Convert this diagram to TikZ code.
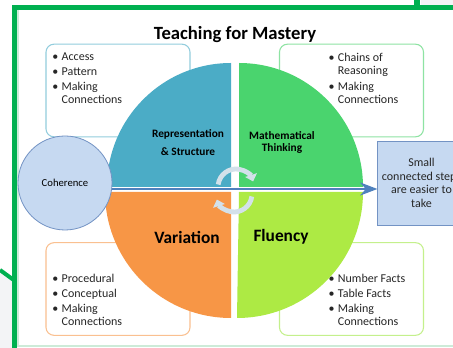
\documentclass[tikz,border=0pt]{standalone}
\usepackage{fontspec}
\setmainfont{Carlito}
\usetikzlibrary{arrows.meta,positioning}

\definecolor{frame}{HTML}{00B050}
\definecolor{framelt}{HTML}{CDEBD8}
\definecolor{greyside}{HTML}{F3F4F6}
\definecolor{repc}{HTML}{4BACC6}
\definecolor{mathc}{HTML}{4AD46E}
\definecolor{varc}{HTML}{F79646}
\definecolor{fluc}{HTML}{ADEA44}
\definecolor{repl}{HTML}{93CDDD}
\definecolor{mathl}{HTML}{8EE3A3}
\definecolor{varl}{HTML}{FAC090}
\definecolor{flul}{HTML}{C4F08C}
\definecolor{pale}{HTML}{C6D9F1}
\definecolor{paleb}{HTML}{7393C4}
\definecolor{link}{HTML}{4F81BD}
\definecolor{cyc}{HTML}{D3E1EA}
\definecolor{txt}{HTML}{262626}

\newcommand\bul{\textbullet\hspace{2.5pt}}
\newcommand\cnt{\hphantom{\textbullet\hspace{2.5pt}}}

\begin{document}
\begin{tikzpicture}[x=0.75pt,y=0.75pt,>=Stealth,
    box/.style={draw,rounded corners=6pt,line width=0.8pt,minimum width=108pt,minimum height=69.5pt},
    list/.style={align=left,inner sep=0pt,anchor=north west,text=txt,
      font=\fontsize{9}{9.6}\selectfont},
    lbl/.style={align=center,inner sep=0pt,font=\bfseries\fontsize{8.5}{9}\selectfont},
    big/.style={inner sep=0pt,font=\bfseries\fontsize{13}{14}\selectfont},
    turn/.style={draw=cyc,line width=3.6pt,-{Triangle[length=5pt,width=9pt]}}]

\useasboundingbox (0,0) rectangle (453,-348);
\fill[white] (0,0) rectangle (453,-348);

% slide frame
\fill[greyside] (421,0) rectangle (453,-5);
\fill[greyside] (0,-272) -- (12,-281) -- (12,-348) -- (0,-348) -- cycle;
\draw[frame,line width=3pt] (0,-270) -- (13,-279.5);
\fill[frame] (414,0) rectangle (420,-5);
\fill[frame] (12,-5) rectangle (453,-10);
\fill[frame] (12,-5) rectangle (17,-348);
\draw[framelt,line width=1pt] (18,-10) -- (18,-346) -- (453,-346);

\node[font=\bfseries\fontsize{14}{16}\selectfont] (title) at (235,-35) {Teaching for Mastery};

% corner boxes
\node[box,draw=repl] (repbox) at (118,-90.5) {};
\node[box,draw=mathl] (mathbox) at (351.5,-90.5) {};
\node[box,draw=varl] (varbox) at (118,-289) {};
\node[box,draw=flul] (flubox) at (351.5,-289) {};

\node[list] (replist) at ([xshift=5pt,yshift=-7pt]repbox.north west)
  {\bul Access\\[1.6pt]\bul Pattern\\[1.6pt]\bul Making\\\cnt Connections};
\node[list] (mathlist) at ([xshift=37pt,yshift=-7pt]mathbox.north west)
  {\bul Chains of\\\cnt Reasoning\\[2.4pt]\bul Making\\\cnt Connections};
\node[list] (varlist) at ([xshift=5pt,yshift=-24pt]varbox.north west)
  {\bul Procedural\\[1.6pt]\bul Conceptual\\[1.6pt]\bul Making\\\cnt Connections};
\node[list] (flulist) at ([xshift=37pt,yshift=-24pt]flubox.north west)
  {\bul Number Facts\\[1.6pt]\bul Table Facts\\[1.6pt]\bul Making\\\cnt Connections};

% the four quarters
\fill[repc] (231,-187) -- ++(-124,0) arc[start angle=180,end angle=90,radius=124] -- cycle;
\fill[mathc] (239,-187) -- ++(0,124) arc[start angle=90,end angle=0,radius=124] -- cycle;
\fill[varc] (231,-192) -- ++(0,-126) arc[start angle=270,end angle=180,radius=126] -- cycle;
\fill[fluc] (239,-192) -- ++(124,0) arc[start angle=0,end angle=-90,radius=126] -- cycle;

\node[lbl] (rep) at (188,-143) {Representation\\[4.5pt]\& Structure};
\node[lbl] (math) at (282,-142) {Mathematical\\Thinking};
\node[big] (var) at (187,-237) {Variation};
\node[big] (flu) at (281,-237) {Fluency};

% turning arrows
\coordinate (mid) at (235,-190);
\draw[turn] ([shift={(1,3)}]mid) ++(172:18) arc[start angle=172,end angle=18,radius=18];
\draw[turn] ([shift={(-1,-4)}]mid) ++(-8:18) arc[start angle=-8,end angle=-162,radius=18];

% coherence and steps
\node[circle,draw=paleb,fill=pale,line width=0.6pt,minimum size=70.5pt,inner sep=0pt,
  font=\fontsize{8}{9}\selectfont] (coh) at (65,-183) {Coherence};
\node[draw=paleb,fill=pale,line width=0.6pt,minimum width=65.5pt,minimum height=63pt,
  inner sep=0pt,align=center,text=txt,font=\fontsize{9}{10.2}\selectfont]
  (steps) at (421.5,-183) {Small\\connected steps\\are easier to\\take};

\draw[->,link,line width=2.2pt] ([yshift=-4.5pt]coh.east) -- ([yshift=-4.5pt]steps.west);

\end{tikzpicture}
\end{document}
